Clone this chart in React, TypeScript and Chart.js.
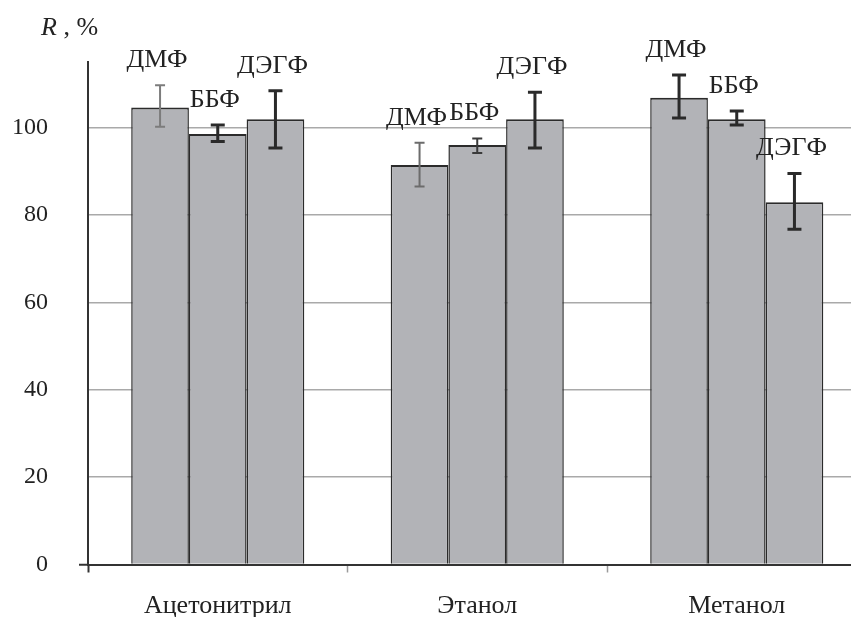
import React, { useEffect, useRef } from "react";
import { Chart, registerables } from "chart.js";

Chart.register(...registerables);

const solvents = ["Ацетонитрил", "Этанол", "Метанол"];
const extractants = ["ДМФ", "ББФ", "ДЭГФ"];

const dmfValues = [104.6, 91.4, 106.8];
const bbfValues = [98.5, 96.0, 101.9];
const degfValues = [101.9, 101.9, 82.9];

const dmfErrLow = [100.2, 86.5, 102.2];
const dmfErrHigh = [109.7, 96.5, 112.0];
const bbfErrLow = [96.8, 94.2, 100.6];
const bbfErrHigh = [100.6, 97.5, 103.8];
const degfErrLow = [95.3, 95.3, 76.7];
const degfErrHigh = [108.4, 108.1, 89.5];

const yTicks = [0, 20, 40, 60, 80, 100];
const yMax = 115;

// styles
const dmfErrColors = ["#7c7c7c", "#6c6c6c", "#2a2a2a"];
const bbfErrColors = ["#2a2a2a", "#3a3a3a", "#2a2a2a"];
const degfErrColors = ["#2a2a2a", "#2a2a2a", "#2a2a2a"];

const FONT = "'Liberation Serif', 'Times New Roman', serif";

export default function App() {
  const ref = useRef<HTMLCanvasElement | null>(null);

  useEffect(() => {
    if (!ref.current) return;
    const errLows = [dmfErrLow, bbfErrLow, degfErrLow];
    const errHighs = [dmfErrHigh, bbfErrHigh, degfErrHigh];
    const errColors = [dmfErrColors, bbfErrColors, degfErrColors];

    const errorPlugin = {
      id: "errorBarsAndLabels",
      afterDatasetsDraw(chart: any) {
        const ctx = chart.ctx;
        const yScale = chart.scales.y;
        ctx.save();
        chart.data.datasets.forEach((_: any, i: number) => {
          const meta = chart.getDatasetMeta(i);
          meta.data.forEach((el: any, j: number) => {
            const x = el.x;
            const yH = yScale.getPixelForValue(errHighs[i][j]);
            const yL = yScale.getPixelForValue(errLows[i][j]);
            const col = errColors[i][j];
            const grey = col !== "#2a2a2a";
            const half = grey ? 5 : 7;
            ctx.strokeStyle = col;
            ctx.lineWidth = grey ? 2 : 3;
            ctx.beginPath();
            ctx.moveTo(x, yH);
            ctx.lineTo(x, yL);
            ctx.moveTo(x - half, yH);
            ctx.lineTo(x + half, yH);
            ctx.moveTo(x - half, yL);
            ctx.lineTo(x + half, yL);
            ctx.stroke();
            ctx.fillStyle = "#222";
            ctx.font = `26px ${FONT}`;
            ctx.textAlign = "center";
            ctx.textBaseline = "alphabetic";
            ctx.fillText(extractants[i], x - 3, yH - 18);
          });
        });
        // axis title
        ctx.textAlign = "left";
        ctx.textBaseline = "alphabetic";
        ctx.fillStyle = "#222";
        ctx.font = `italic 26px ${FONT}`;
        ctx.fillText("R", 41, 35);
        const w = ctx.measureText("R").width;
        ctx.font = `26px ${FONT}`;
        ctx.fillText(" , %", 41 + w, 35);
        ctx.restore();
      },
    };

    const mk = (label: string, data: number[]) => ({
      label,
      data,
      backgroundColor: "#b2b3b7",
      borderColor: "#2b2b2b",
      borderWidth: { top: 2, left: 1.5, right: 1.5, bottom: 0 },
      borderSkipped: false,
      categoryPercentage: 0.667,
      barPercentage: 1.0,
    });

    const chart = new Chart(ref.current, {
      type: "bar",
      data: {
        labels: solvents,
        datasets: [
          mk(extractants[0], dmfValues),
          mk(extractants[1], bbfValues),
          mk(extractants[2], degfValues),
        ],
      },
      options: {
        animation: false,
        responsive: false,
        layout: { padding: { top: 62, right: 13.5, left: 0, bottom: 0 } },
        plugins: { legend: { display: false }, tooltip: { enabled: false } },
        scales: {
          x: {
            grid: {
              offset: true,
              drawOnChartArea: false,
              drawTicks: true,
              tickLength: 8,
              tickColor: (c: any) => (c.index === 0 ? "#333" : "#9a9a9a"),
              tickWidth: (c: any) => (c.index === 0 ? 2 : 1.5),
            } as any,
            border: { color: "#333", width: 2 },
            ticks: {
              color: "#222",
              font: { family: FONT, size: 26 },
              padding: 18,
              maxRotation: 0,
            },
            afterFit: (s: any) => {
              s.height = 52.5;
            },
          },
          y: {
            min: 0,
            max: yMax,
            afterBuildTicks: (s: any) => {
              s.ticks = yTicks.map((v) => ({ value: v }));
            },
            grid: {
              color: (c: any) => (c.tick && c.tick.value === 0 ? "rgba(0,0,0,0)" : "#a9a9a9"),
              lineWidth: 1.5,
              tickLength: 9,
              tickColor: (c: any) => (c.tick && c.tick.value === 0 ? "#333" : "rgba(0,0,0,0)"),
              tickWidth: 2,
            } as any,
            border: { color: "#333", width: 2 },
            ticks: {
              color: "#222",
              font: { family: FONT, size: 24 },
              padding: 31,
            },
            afterFit: (s: any) => {
              s.width = 88;
            },
          },
        },
      },
      plugins: [errorPlugin],
    } as any);
    return () => chart.destroy();
  }, []);

  return (
    <div style={{ position: "fixed", left: 0, top: 0, width: 851, height: 617, overflow: "hidden", background: "#fff" }}>
      <canvas ref={ref} width={880} height={617} style={{ display: "block" }} />
    </div>
  );
}
